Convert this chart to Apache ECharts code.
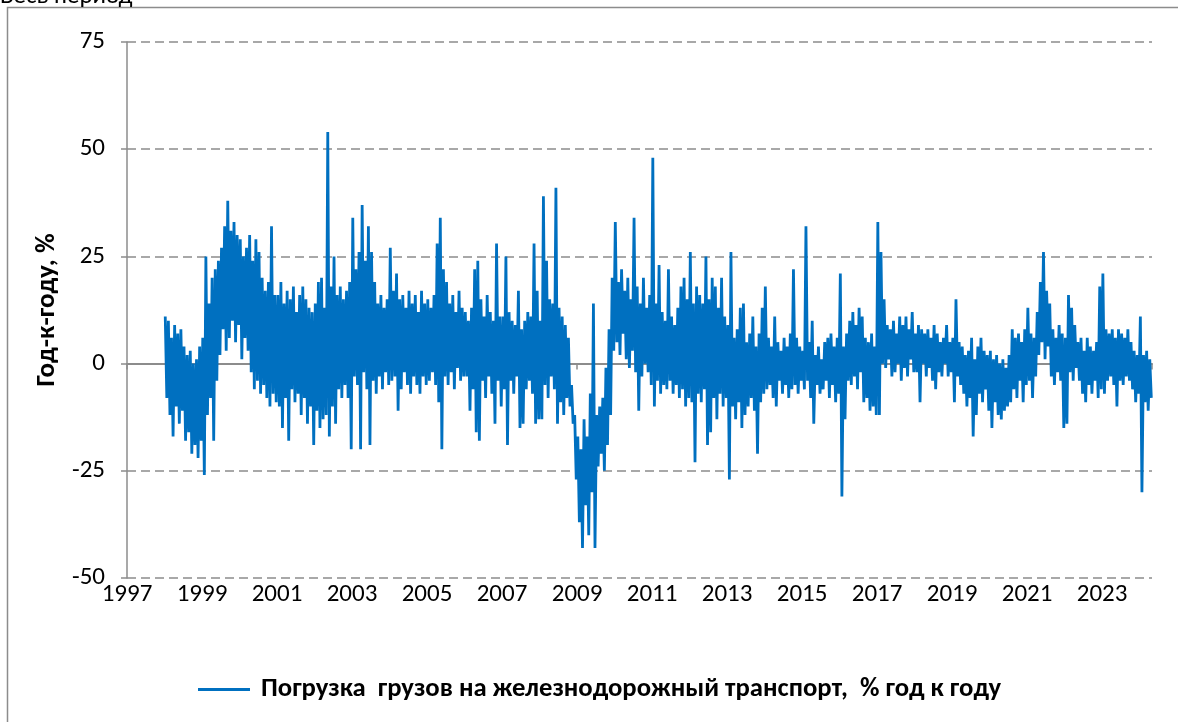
<!DOCTYPE html>
<html>
<head>
<meta charset="utf-8">
<script src="https://cdn.jsdelivr.net/npm/echarts@6/dist/echarts.min.js"></script>
<style>
html,body{margin:0;padding:0;background:#fff;}
#chart{width:1178px;height:722px;}
</style>
</head>
<body>
<div id="chart"></div>
<script>
// Series: rail freight loading, % year-on-year. Half-month samples, alternating upper/lower swing
const y1998 = [11,-8,10,-12,6,-17,9,-10,7,-14,8,-11,4,-18,2,-16,3,-21,0,-19,1,-22,4,-18];
const y1999 = [6,-26,25,-12,14,-8,20,-18,22,-4,24,2,27,8,32,3,38,6,31,10,33,5,30,9];
const y2000 = [29,1,25,6,27,3,30,-2,24,-6,29,-4,26,-7,20,-5,17,-8,19,-10,32,-7,16,-9];
const y2001 = [16,-10,19,-15,14,-8,17,-18,15,-6,18,-9,12,-7,16,-12,18,-8,15,-14,13,-10,12,-19];
const y2002 = [14,-11,19,-15,20,-13,13,-12,54,-17,18,-10,25,-14,16,-6,18,-8,15,-5,17,-8,19,-20];
const y2003 = [34,-3,22,-5,26,-20,37,-2,24,-6,32,-19,26,-4,19,-7,14,-3,16,-6,13,-2,15,-5];
const y2004 = [27,-4,17,-3,21,-11,15,-6,16,-2,13,-5,17,-7,14,-3,16,-5,12,-7,17,-3,14,-5];
const y2005 = [15,-4,13,-2,16,-5,28,-9,34,-20,22,-3,19,-5,14,-2,16,-6,12,-1,17,-4,13,-3];
const y2006 = [12,-3,10,-11,13,-6,22,-16,24,-18,15,-4,11,-8,16,-3,12,-7,10,-14,28,-4,11,-10];
const y2007 = [11,-6,25,-19,12,-4,10,-7,9,-3,17,-15,8,-14,10,-6,12,-4,11,-7,28,-14,17,-13];
const y2008 = [10,-13,39,-5,24,-8,15,-3,14,-6,41,-14,13,-9,11,-12,9,-8,6,-10,-5,-14,-12,-27];
const y2009 = [-17,-37,-20,-43,-13,-33,-17,-40,-7,-30,14,-43,-12,-24,-10,-21,-8,-25,-1,-19,8,-12,20,3];
const y2010 = [33,5,19,2,22,7,17,1,20,-1,15,3,34,-2,18,-11,14,-3,20,0,13,-2,16,-5];
const y2011 = [48,-10,14,-4,23,-7,12,-5,10,-6,22,-4,11,-7,9,-5,13,-8,18,-6,20,-10,15,-8];
const y2012 = [26,-9,14,-23,18,-7,16,-9,14,-6,25,-19,15,-16,20,-8,18,-13,13,-7,20,-10,11,-8];
const y2013 = [9,-27,26,-10,6,-13,8,-9,13,-15,14,-12,5,-10,7,-8,11,-11,4,-21,7,-9,13,-7];
const y2014 = [18,-6,6,-5,4,-8,11,-10,5,-4,3,-7,6,-5,4,-8,7,-6,22,-5,6,-7,4,-4];
const y2015 = [3,-6,32,-4,5,-8,10,-14,2,-5,4,-7,1,-6,5,-4,6,-8,7,-5,4,-9,6,-7];
const y2016 = [21,-31,4,-13,7,-4,10,-5,12,-3,9,-6,13,-2,11,-9,6,-8,5,-11,7,-10,4,-12];
const y2017 = [33,-12,26,0,15,-1,9,1,8,-3,10,-2,7,0,11,-4,9,-1,11,-3,8,1,12,-2];
const y2018 = [7,-2,9,-9,8,0,7,-3,8,-1,6,-4,9,-6,7,-2,5,-3,6,0,9,-3,5,-2];
const y2019 = [6,-9,15,-3,5,-5,4,-7,2,-10,3,-8,6,-17,1,-12,4,-7,6,-9,3,-6,2,-11];
const y2020 = [3,-15,1,-9,2,-12,0,-13,1,-11,-1,-10,2,-9,8,-6,6,-8,7,-4,5,-9,8,-5];
const y2021 = [13,-4,7,-8,6,-3,12,2,19,5,26,1,17,4,14,-3,8,-5,6,-2,9,-4,7,-15];
const y2022 = [6,-14,16,-2,13,-4,9,-1,5,-4,6,-7,3,-9,6,-5,4,-7,3,-4,5,-8,18,-6];
const y2023 = [21,-7,8,-4,7,-3,8,-5,6,-10,8,-4,7,-5,6,-3,8,-4,5,-6,3,-9,2,-7];
const y2024 = [11,-30,2,-9,3,-11,1,-8];

const yearBlocks = [
  [1998,y1998],[1999,y1999],[2000,y2000],[2001,y2001],[2002,y2002],[2003,y2003],
  [2004,y2004],[2005,y2005],[2006,y2006],[2007,y2007],[2008,y2008],[2009,y2009],
  [2010,y2010],[2011,y2011],[2012,y2012],[2013,y2013],[2014,y2014],[2015,y2015],
  [2016,y2016],[2017,y2017],[2018,y2018],[2019,y2019],[2020,y2020],[2021,y2021],
  [2022,y2022],[2023,y2023],[2024,y2024]
];
const baseYear = 1997;
const yTicks = [-50,-25,0,25,50,75];
const seriesName = 'Погрузка  грузов на железнодорожный транспорт,  % год к году';
const yAxisTitle = 'Год-к-году, %';
const panelTitle = 'Весь период';

const points = [];
yearBlocks.forEach(([yr, arr]) => {
  arr.forEach((v, i) => points.push([yr - baseYear + 0.02 + i / 24, v]));
});

const FONT = 'Carlito, "Open Sans", "Noto Sans", sans-serif';
const GRID_C = '#8c8c8c';

const chart = echarts.init(document.getElementById('chart'), null, {renderer: 'canvas'});
const xCommon = {
  type: 'value', min: 0, max: 27.33, interval: 2, position: 'bottom'
};
chart.setOption({
  animation: false,
  backgroundColor: '#fff',
  graphic: [
    {type: 'rect', shape: {x: 7.5, y: 7.5, width: 1300, height: 1000},
     style: {fill: 'none', stroke: GRID_C, lineWidth: 1.5}, silent: true, z: -1},
    {type: 'text', left: 0, top: -16,
     style: {text: panelTitle, font: '25px ' + FONT, fill: '#000'}}
  ],
  grid: {left: 127, right: 26, top: 42, bottom: 144, containLabel: false},
  xAxis: [
    Object.assign({}, xCommon, {
      axisLine: {show: false, onZero: false},
      axisTick: {show: false},
      splitLine: {show: false},
      axisLabel: {margin: 4, color: '#000', fontSize: 25, fontFamily: FONT,
                  showMaxLabel: false,
                  formatter: v => String(baseYear + v)}
    }),
    Object.assign({}, xCommon, {
      axisLine: {show: true, onZero: true, lineStyle: {color: GRID_C, width: 2}},
      axisTick: {show: true, inside: false, length: 6, lineStyle: {color: GRID_C, width: 1.5}},
      splitLine: {show: false},
      axisLabel: {show: false}
    })
  ],
  yAxis: {
    type: 'value', min: yTicks[0], max: yTicks[yTicks.length - 1], interval: 25,
    axisLine: {show: true, onZero: false, lineStyle: {color: GRID_C, width: 1.5}},
    axisTick: {show: true, length: 6, lineStyle: {color: GRID_C, width: 1.5}},
    splitLine: {show: true, lineStyle: {color: GRID_C, width: 1.5, type: [9, 5]}},
    axisLabel: {margin: 22, color: '#000', fontSize: 25, fontFamily: FONT},
    name: yAxisTitle, nameLocation: 'middle', nameGap: 66, nameRotate: 90,
    nameTextStyle: {color: '#000', fontSize: 27, fontWeight: 'bold', fontFamily: FONT}
  },
  legend: {
    bottom: 14, left: 193, icon: 'rect', itemWidth: 52, itemHeight: 3, itemGap: 10,
    textStyle: {color: '#000', fontSize: 26.7, fontWeight: 'bold', fontFamily: FONT,
                padding: [0, 0, 0, 6]},
    data: [seriesName]
  },
  series: [{
    name: seriesName, type: 'line', data: points, xAxisIndex: 0,
    showSymbol: false, symbol: 'none', sampling: null,
    lineStyle: {color: '#0070C0', width: 2.8}, itemStyle: {color: '#0070C0'},
    z: 3
  }]
});
</script>
</body>
</html>
